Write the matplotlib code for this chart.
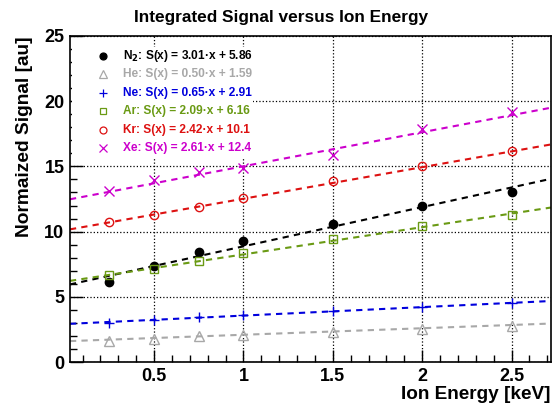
import numpy as np
import matplotlib
matplotlib.use('Agg')
from matplotlib import pyplot as plt
from matplotlib.ticker import MultipleLocator
from matplotlib.patches import Rectangle

plt.rcParams['font.family'] = ['Liberation Sans', 'DejaVu Sans']
plt.rcParams['font.weight'] = 'bold'

energy = [0.25, 0.5, 0.75, 1.0, 1.5, 2.0, 2.5]
gases = ['N$_2$', 'He', 'Ne', 'Ar', 'Kr', 'Xe']
signal_n2 = [6.1, 7.33, 8.4, 9.25, 10.6, 12.0, 13.05]
signal_he = [1.6, 1.77, 2.0, 2.1, 2.3, 2.54, 2.74]
signal_ne = [3.0, 3.2, 3.43, 3.6, 3.95, 4.23, 4.54]
signal_ar = [6.64, 7.15, 7.77, 8.38, 9.43, 10.46, 11.3]
signal_kr = [10.74, 11.3, 11.92, 12.6, 13.85, 15.05, 16.18]
signal_xe = [13.1, 13.97, 14.6, 14.85, 15.85, 17.85, 19.2]
slopes = [3.01, 0.50, 0.65, 2.09, 2.42, 2.61]
intercepts = [5.86, 1.59, 2.91, 6.16, 10.1, 12.4]
labels = ['3.01', '0.50', '0.65', '2.09', '2.42', '2.61']
offsets = ['5.86', '1.59', '2.91', '6.16', '10.1', '12.4']

signals = [signal_n2, signal_he, signal_ne, signal_ar, signal_kr, signal_xe]
colors = ['black', '#a8a8a8', '#0000dd', '#6a9a14', '#dd1111', '#cc00cc']
markers = ['o', '^', '+', 's', 'o', 'x']
filled = [True, False, True, False, False, True]

fig = plt.figure(figsize=(5.52, 4.03), dpi=100)
ax = fig.add_axes([0.1268, 0.1017, 0.998 - 0.1268, 0.9107 - 0.1017])

xmin, xmax = 0.03, 2.72
xfit = np.array([xmin, xmax])

# legend box (white, no border) drawn over the grid
ax.add_patch(Rectangle((0.005, 0.626), 0.375, 0.34, transform=ax.transAxes,
                       facecolor='white', edgecolor='none', zorder=4))

for i in range(6):
    c = colors[i]
    ax.plot(xfit, slopes[i] * xfit + intercepts[i], '--', color=c, lw=1.5,
            dashes=(3, 2.5), zorder=2)
    mfc = c if filled[i] else 'none'
    ms = 6 if markers[i] in ('o', 's') else 7
    ax.plot(energy, signals[i], linestyle='none', marker=markers[i], color=c,
            mfc=mfc, mec=c, ms=ms, mew=1.0, zorder=3)
    # legend entry
    y = 0.9396 - i * 0.0567
    ax.plot([0.0686], [y], transform=ax.transAxes, linestyle='none',
            marker=markers[i], color=c, mfc=mfc, mec=c,
            ms=5 if markers[i] in ('o', 's') else 6, mew=0.9, clip_on=False, zorder=5)
    ax.text(0.110, y, '%s: S(x) = %s\u00b7x + %s' % (gases[i], labels[i], offsets[i]),
            transform=ax.transAxes, color=c, fontsize=8.6, fontweight='bold',
            va='center', ha='left', zorder=5)

ax.set_xlim(xmin, xmax)
ax.set_ylim(0, 25)
ax.xaxis.set_major_locator(MultipleLocator(0.5))
ax.xaxis.set_minor_locator(MultipleLocator(0.1))
ax.yaxis.set_major_locator(MultipleLocator(5))
ax.yaxis.set_minor_locator(MultipleLocator(1))
ax.set_xticks([0.5, 1, 1.5, 2, 2.5])
ax.set_xticklabels(['0.5', '1', '1.5', '2', '2.5'])
ax.tick_params(which='major', direction='in', length=9, width=1, labelsize=13, pad=4)
ax.tick_params(which='minor', direction='in', length=5, width=1)
for lab in ax.get_xticklabels() + ax.get_yticklabels():
    lab.set_fontweight('bold')
ax.grid(True, which='major', color='black', linestyle=':', lw=0.9)
for s in ax.spines.values():
    s.set_linewidth(1.2)
    s.set_zorder(6)

fig.text(0.509, 0.957, 'Integrated Signal versus Ion Energy', fontsize=12.4,
         fontweight='bold', ha='center', va='center')
ax.set_xlabel('Ion Energy [keV]', fontsize=13.7, fontweight='bold', loc='right', labelpad=1)
ax.set_ylabel('Normaized Signal [au]', fontsize=13.8, fontweight='bold', loc='top', labelpad=8)

fig.savefig('out.png', dpi=100)
